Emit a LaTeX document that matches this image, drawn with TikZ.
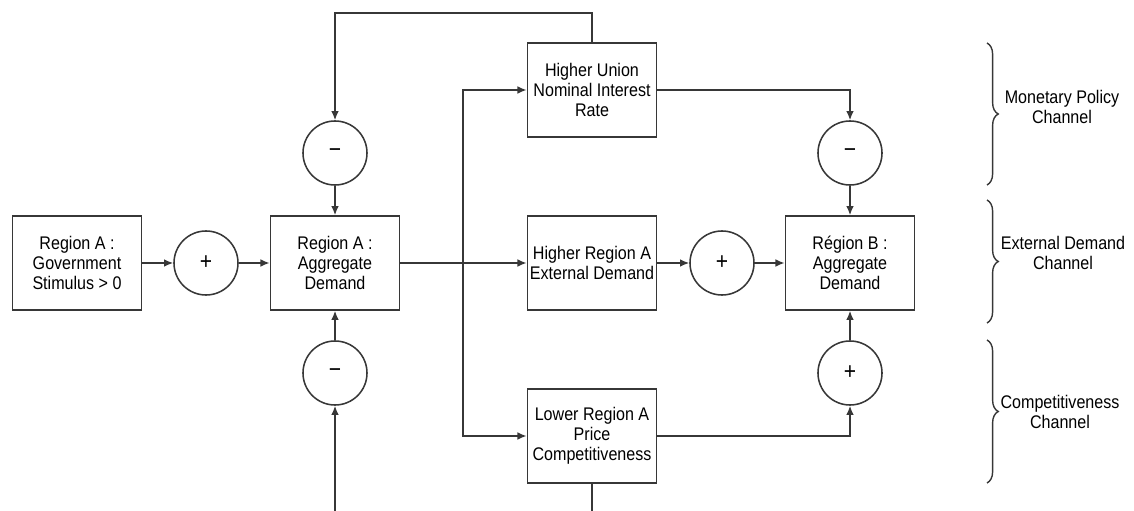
\documentclass[tikz,border=0pt]{standalone}
\usepackage{fontspec}
\setmainfont[FakeStretch=0.88]{Liberation Sans}
\usetikzlibrary{arrows.meta,decorations.pathreplacing}
\definecolor{ink}{RGB}{55,55,55}

\begin{document}
\begin{tikzpicture}[x=0.025cm, y=-0.025cm, line width=1.1pt,
  font=\fontsize{13pt}{14.2pt}\selectfont,
  box/.style={draw=ink, rectangle, align=center, inner sep=1pt, minimum width=3.23cm, minimum height=2.35cm},
  sum/.style={draw=ink, circle, inner sep=0pt, minimum size=1.6cm, font=\fontsize{17pt}{17pt}\selectfont},
  link/.style={draw=ink, -{Latex[length=6.5pt, width=5.5pt]}},
  line/.style={draw=ink},
  brace/.style={draw=ink, line width=1pt, decorate, decoration={brace, amplitude=8pt}}]
  \useasboundingbox (0,0) rectangle (1134,511);
  \node[box] (0) at (77,263) {Region A :\\Government\\Stimulus > 0};
  \node[sum] (1) at (206,263) {+};
  \node[box] (2) at (335,263) {Region A :\\Aggregate\\Demand};
  \node[sum] (3) at (335,153) {−};
  \node[sum] (4) at (335,373) {−};
  \node[box] (5) at (592,90) {Higher Union\\Nominal Interest\\Rate};
  \node[box] (6) at (592,263) {Higher Region A\\External Demand};
  \node[box] (7) at (592,436) {Lower Region A\\Price\\Competitiveness};
  \node[sum] (8) at (722,263) {+};
  \node[box] (9) at (850,263) {Région B :\\Aggregate\\Demand};
  \node[sum] (10) at (850,153) {−};
  \node[sum] (11) at (850,373) {+};
  \coordinate (12) at (463,263);
  \coordinate (13) at (335,511);
  \coordinate (14) at (592,511);
  \coordinate (15) at (592,13);
  \draw[link] (0)--(1);
  \draw[link] (1)--(2);
  \draw[link] (2)--(6);
  \draw[link] (12)|-(5);
  \draw[link] (12)|-(7);
  \draw[link] (5)--(15)-|(3);
  \draw[link] (3)--(2);
  \draw[link] (13)--(4);
  \draw[link] (4)--(2);
  \draw[link] (5)-|(10);
  \draw[link] (10)--(9);
  \draw[link] (6)--(8);
  \draw[link] (8)--(9);
  \draw[link] (7)-|(11);
  \draw[link] (11)--(9);
  \draw[line] (7)--(14);
  % channels
  \draw[brace] (987,43)--(987,185);
  \draw[brace] (987,200)--(987,323);
  \draw[brace] (987,340)--(987,483);
  \node[align=center] (16) at (1062,107) {Monetary Policy\\Channel};
  \node[align=center] (17) at (1063,253) {External Demand\\Channel};
  \node[align=center] (18) at (1060,412) {Competitiveness\\Channel};
\end{tikzpicture}
\end{document}
